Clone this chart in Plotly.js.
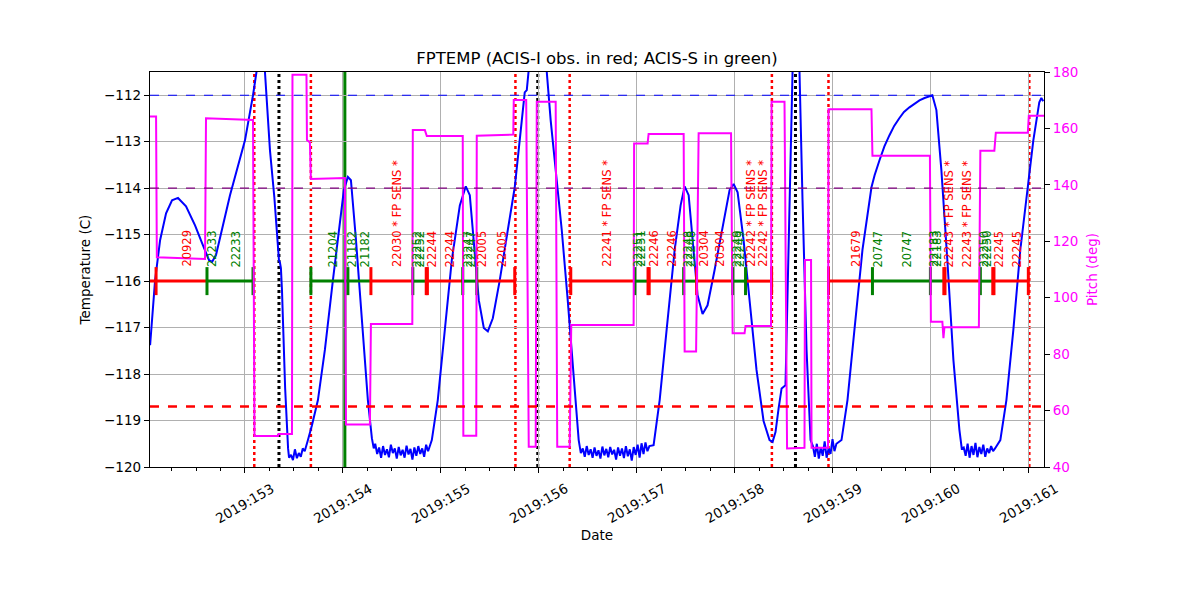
<!DOCTYPE html>
<html><head><meta charset="utf-8">
<script src="https://cdn.plot.ly/plotly-3.0.1.min.js"></script>
<style>body{margin:0;background:#fff}#chart{width:1200px;height:600px}</style>
</head><body><div id="chart"></div>
<script>
// ---- Data (day of year 2019) ----
const tempTime = [
152.031,152.082,152.133,152.194,152.255,152.316,152.398,152.490,152.571,152.633,152.663,152.704,152.847,153.000,153.082,153.112,153.160,153.204,153.255,153.300,153.347,153.357,153.367,153.378,153.410,153.440,153.450,
153.47,153.49,153.51,153.53,153.55,153.57,153.59,153.61,
153.643,153.684,153.745,153.816,153.898,153.969,154.010,154.051,154.082,154.133,154.194,154.255,154.296,154.315,
154.33,154.35,154.37,154.39,154.41,154.43,154.45,154.47,154.49,154.51,154.53,154.55,154.57,154.59,154.61,154.63,154.65,154.67,154.69,154.71,154.73,154.75,154.77,154.79,154.81,154.83,154.85,154.87,
154.908,154.969,155.041,155.112,155.194,155.255,155.296,155.337,155.388,155.439,155.480,155.531,155.602,155.684,155.755,155.827,155.857,155.878,155.900,155.980,156.082,156.122,156.173,156.235,156.296,156.357,156.408,156.430,
156.45,156.47,156.49,156.51,156.53,156.55,156.57,156.59,156.61,156.63,156.65,156.67,156.69,156.71,156.73,156.75,156.77,156.79,156.81,156.83,156.85,156.87,156.89,156.91,156.93,156.95,156.97,156.99,157.01,157.03,157.05,157.07,157.09,157.11,157.13,
157.173,157.235,157.306,157.388,157.449,157.490,157.531,157.582,157.622,157.673,157.724,157.796,157.878,157.949,157.990,158.031,158.092,158.153,158.224,158.296,158.357,158.388,158.418,158.449,158.480,158.520,158.551,158.592,158.625,158.663,158.694,158.735,158.776,
158.80,158.82,158.84,158.86,158.88,158.90,158.92,158.94,158.96,158.98,159.00,159.02,159.04,
159.092,159.153,159.224,159.306,159.398,159.430,159.480,159.530,159.582,159.630,159.684,159.730,159.786,159.840,159.888,159.940,160.000,160.020,160.061,160.112,160.173,160.235,160.296,160.320,
160.34,160.36,160.38,160.40,160.42,160.44,160.46,160.48,160.50,160.52,160.54,160.56,160.58,160.60,160.62,160.64,160.66,
160.714,160.776,160.847,160.918,160.990,161.051,161.112,161.133,161.153
];
const tempValue = [
-117.38,-115.98,-115.12,-114.54,-114.26,-114.21,-114.39,-114.80,-115.23,-115.55,-115.59,-115.44,-114.15,-112.97,-112.00,-111.50,-110.90,-111.50,-113.18,-114.20,-115.55,-115.60,-115.72,-116.20,-118.30,-119.60,-119.80,
-119.74,-119.85,-119.62,-119.81,-119.70,-119.78,-119.60,-119.66,
-119.42,-119.10,-118.56,-117.48,-115.98,-114.69,-114.04,-113.76,-113.83,-115.10,-116.84,-118.56,-119.38,-119.60,
-119.50,-119.72,-119.58,-119.80,-119.55,-119.74,-119.62,-119.79,-119.52,-119.70,-119.60,-119.82,-119.57,-119.75,-119.63,-119.80,-119.54,-119.73,-119.61,-119.84,-119.58,-119.76,-119.55,-119.72,-119.60,-119.78,-119.52,-119.66,
-119.42,-118.56,-117.05,-115.55,-114.37,-113.96,-114.15,-115.12,-116.41,-117.01,-117.08,-116.80,-115.98,-114.90,-113.98,-112.54,-111.94,-111.89,-111.40,-110.50,-111.50,-112.54,-113.61,-114.90,-116.41,-118.13,-119.42,-119.70,
-119.60,-119.78,-119.55,-119.74,-119.62,-119.80,-119.58,-119.76,-119.64,-119.82,-119.56,-119.75,-119.61,-119.79,-119.57,-119.73,-119.63,-119.84,-119.58,-119.76,-119.60,-119.81,-119.55,-119.77,-119.62,-119.86,-119.57,-119.74,-119.52,-119.80,-119.49,-119.72,-119.47,-119.66,-119.55,
-119.53,-118.56,-117.05,-115.33,-114.37,-113.96,-114.15,-115.33,-116.30,-116.71,-116.52,-115.76,-114.80,-114.04,-113.91,-114.09,-115.12,-116.41,-117.91,-119.01,-119.42,-119.46,-119.25,-118.75,-118.31,-118.24,-115.00,-111.50,-110.60,-111.50,-114.26,-117.48,-119.42,
-119.55,-119.78,-119.50,-119.82,-119.58,-119.76,-119.45,-119.80,-119.60,-119.72,-119.40,-119.66,-119.50,
-119.42,-118.56,-117.05,-115.33,-113.98,-113.72,-113.40,-113.10,-112.86,-112.66,-112.49,-112.36,-112.26,-112.17,-112.11,-112.06,-112.02,-112.00,-112.32,-113.61,-115.55,-117.70,-119.20,-119.60,
-119.58,-119.76,-119.50,-119.80,-119.55,-119.74,-119.48,-119.79,-119.57,-119.72,-119.52,-119.78,-119.60,-119.70,-119.55,-119.66,-119.60,
-119.42,-118.56,-117.05,-115.33,-114.00,-112.97,-112.15,-112.06,-112.13
];

const pitchTime = [152.03,152.092,152.100,152.592,152.602,153.082,153.097,153.337,153.342,153.480,153.485,153.628,153.633,153.663,153.673,154.020,154.031,154.276,154.286,154.709,154.714,154.837,154.857,155.224,155.230,155.362,155.367,155.740,155.745,155.872,155.898,155.969,155.980,156.173,156.189,156.316,156.332,156.969,156.974,157.112,157.122,157.480,157.490,157.607,157.633,157.964,157.980,158.102,158.112,158.372,158.378,158.510,158.536,158.714,158.719,158.781,158.786,158.954,158.959,159.398,159.408,159.995,160.005,160.122,160.133,160.143,160.495,160.510,160.653,160.668,160.995,161.005,161.16];
const pitchValue = [164.2,164.2,114.3,113.7,163.6,163.0,51.0,51.0,51.7,51.7,179.0,179.0,155.9,155.0,142.1,142.4,55.1,55.1,90.7,90.7,159.4,159.4,157.3,157.3,51.1,51.1,157.4,157.8,170.1,170.1,47.2,47.2,169.5,169.5,47.2,47.2,90.3,90.3,154.7,154.7,158.0,158.0,80.9,80.9,158.3,158.3,87.4,87.4,90.0,90.0,169.5,169.5,46.6,46.8,113.4,113.4,46.8,46.8,166.8,166.8,150.3,150.3,91.5,91.5,85.7,89.5,89.5,152.1,152.1,158.5,158.5,164.5,164.5];

// observations (I = ACIS-I red, S = ACIS-S green)
const obsStart = [152.00,152.612,153.673,154.286,154.714,154.857,155.224,155.367,156.327,156.980,157.122,157.480,157.612,157.980,158.112,158.959,159.408,160.143,160.510,160.643];
const obsStop  = [152.612,153.082,154.286,154.714,154.857,155.224,155.367,155.755,156.980,157.122,157.480,157.612,157.980,158.112,158.378,159.408,160.143,160.510,160.643,161.000];
const obsInstr = ['I','S','S','I','S','I','S','I','I','S','I','S','I','S','I','I','S','I','S','I'];
const obsLevel = -116;

const tickTime  = [152.092,152.612,153.082,153.673,154.051,154.286,154.714,154.851,154.863,155.224,155.367,155.755,156.327,156.980,157.116,157.128,157.480,157.612,157.980,158.112,158.378,158.959,159.408,160.000,160.137,160.149,160.510,160.637,160.649,161.000];
const tickInstr = ['I','S','S','S','S','I','S','I','I','S','S','I','I','S','I','I','S','I','S','S','I','I','S','S','I','I','S','I','I','I'];

const labelTime  = [152.408,152.658,152.908,153.898,154.092,154.224,154.546,154.755,154.786,154.908,155.092,155.276,155.306,155.418,155.622,156.689,157.010,157.036,157.168,157.352,157.520,157.551,157.679,157.852,158.020,158.051,158.168,158.291,159.235,159.464,159.760,160.031,160.061,160.189,160.372,160.546,160.571,160.699,160.883];
const labelText  = ['20929','22233','22233','21204','21182','21182','22030 * FP SENS *','22252','22252','22244','22244','22247','22247','22005','22005','22241 * FP SENS *','22251','22251','22246','22246','22248','22248','20304','20304','22249','22249','22242 * FP SENS *','22242 * FP SENS *','21679','20747','20747','22183','22183','22243 * FP SENS *','22243 * FP SENS *','22250','22250','22245','22245'];
const labelInstr = ['I','S','S','S','S','S','I','S','S','I','I','S','S','I','I','I','S','S','I','I','S','S','I','I','S','S','I','I','I','S','S','S','S','I','I','S','S','I','I'];
const labelBase = -115.72;

const redDottedTimes   = [153.095,153.673,155.762,156.316,158.381,158.959,161.010];
const blackDottedTimes = [153.347,155.990,158.622];
const greenSolidTimes  = [154.020];

const limitBlue = -112.0, limitPurple = -114.0, limitRed = -118.7;

const dayTicks  = [153,154,155,156,157,158,159,160,161];
const dayLabels = ['2019:153','2019:154','2019:155','2019:156','2019:157','2019:158','2019:159','2019:160','2019:161'];

// ---- Build ----
const instrColor = {I:'#ff0000', S:'#008000'};
const FONT = 'DejaVu Sans, sans-serif';
const traces = [];
traces.push({x:tempTime, y:tempValue, type:'scatter', mode:'lines', line:{color:'#0000ff', width:2}, yaxis:'y', hoverinfo:'skip'});

['I','S'].forEach(k=>{
  const xs=[], ys=[];
  obsStart.forEach((s,i)=>{ if(obsInstr[i]===k){ xs.push(s, obsStop[i], null); ys.push(obsLevel, obsLevel, null);} });
  traces.push({x:xs, y:ys, type:'scatter', mode:'lines', line:{color:instrColor[k], width:3}, yaxis:'y', hoverinfo:'skip'});
});
traces.push({x:tickTime, y:tickTime.map(()=>obsLevel), type:'scatter', mode:'markers',
  marker:{symbol:'line-ns', size:20, color:tickInstr.map(k=>instrColor[k]), line:{width:3, color:tickInstr.map(k=>instrColor[k])}},
  yaxis:'y', hoverinfo:'skip'});

traces.push({x:pitchTime, y:pitchValue, type:'scatter', mode:'lines', line:{color:'#ff00ff', width:2}, yaxis:'y2', hoverinfo:'skip'});

const shapes = [];
[[limitBlue,'#0000ff',1.2,'dash'],[limitPurple,'#800080',1.2,'dash'],[limitRed,'#ff0000',2.5,'dash']].forEach(([v,c,w,d])=>{
  shapes.push({type:'line', xref:'paper', x0:0, x1:1, yref:'y', y0:v, y1:v, line:{color:c, width:w, dash:d}, layer:'above'});
});
redDottedTimes.forEach(t=>shapes.push({type:'line', xref:'x', x0:t, x1:t, yref:'paper', y0:0, y1:1, line:{color:'#ff0000', width:2.5, dash:'dot'}, layer:'between'}));
blackDottedTimes.forEach(t=>shapes.push({type:'line', xref:'x', x0:t, x1:t, yref:'paper', y0:0, y1:1, line:{color:'#000000', width:3, dash:'dot'}, layer:'between'}));
greenSolidTimes.forEach(t=>shapes.push({type:'line', xref:'x', x0:t, x1:t, yref:'paper', y0:0, y1:1, line:{color:'#008000', width:3}, layer:'between'}));

const annotations = labelTime.map((t,i)=>({x:t, y:labelBase, xref:'x', yref:'y', text:labelText[i], showarrow:false,
  textangle:-90, xanchor:'center', yanchor:'bottom', font:{family:FONT, size:11.5, color:instrColor[labelInstr[i]]}, borderpad:0}));
// date tick labels, rotated 30 degrees and centred on their ticks
dayTicks.forEach((t,i)=>annotations.push({x:t, y:0, xref:'x', yref:'paper', text:dayLabels[i], showarrow:false,
  textangle:-30, xanchor:'center', yanchor:'top', yshift:-11, font:{family:FONT, size:13.5, color:'#000'}, borderpad:0}));

const layout = {
  width:1200, height:600, paper_bgcolor:'#fff', plot_bgcolor:'#fff', showlegend:false,
  font:{family:FONT, size:13.5, color:'#000'},
  margin:{l:150, r:156, t:72, b:133, pad:0},
  title:{text:'FPTEMP (ACIS-I obs. in red; ACIS-S in green)', font:{family:FONT, size:16.5, color:'#000'}, x:0.4975, xanchor:'center', y:0.903, yanchor:'middle', yref:'container'},
  xaxis:{range:[152.03,161.16], tickmode:'array', tickvals:dayTicks, ticktext:dayLabels, showticklabels:false,
    ticks:'outside', ticklen:5, tickwidth:1, tickcolor:'#000', showgrid:true, gridcolor:'#b0b0b0', gridwidth:1,
    showline:true, mirror:true, linecolor:'#000', linewidth:1.2, zeroline:false,
    minor:{tickmode:'linear', tick0:152, dtick:0.25, ticks:'outside', ticklen:3, tickcolor:'#000', showgrid:false},
    title:{text:'Date', font:{size:13.5}, standoff:58}, automargin:false},
  yaxis:{range:[-120,-111.5], tickmode:'linear', tick0:-120, dtick:1, ticks:'outside', ticklen:5, tickcolor:'#000',
    showgrid:true, gridcolor:'#b0b0b0', gridwidth:1, showline:true, mirror:true, linecolor:'#000', linewidth:1.2, zeroline:false,
    tickfont:{size:13.5}, title:{text:'Temperature (C)', font:{size:13.5}, standoff:10}},
  yaxis2:{overlaying:'y', side:'right', range:[40,180], tickmode:'linear', tick0:40, dtick:20, ticks:'outside', ticklen:5, tickcolor:'#000',
    showgrid:false, zeroline:false, showline:false, tickfont:{size:13.5, color:'#ff00ff'},
    title:{text:'Pitch (deg)', font:{size:13.5, color:'#ff00ff'}, standoff:10}},
  shapes:shapes, annotations:annotations
};
Plotly.newPlot('chart', traces, layout, {staticPlot:true, displayModeBar:false});
</script></body></html>
